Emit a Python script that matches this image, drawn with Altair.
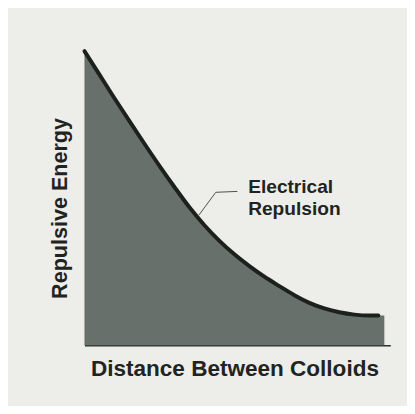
import altair as alt
import pandas as pd

distance = [0, 5, 10, 15, 20, 25, 30, 35, 40, 45, 50, 55, 60, 65, 70, 75, 80, 85, 90, 95, 98, 100]
energy = [100, 92, 84, 76.2, 68.5, 61, 53.8, 46.9, 40.8, 35.5, 30.9, 26.9, 23.3, 20.1, 17, 14.4, 12.5, 11.2, 10.4, 10.1, 10.1, 10.1]

leader_x = [38.2, 43.8, 51]
leader_y = [44.3, 52, 52.3]
leader_order = [0, 1, 2]

label_lines = ["Electrical", "Repulsion"]
label_x = [54.6, 54.6]
label_y = [51.7, 44.3]

curve = pd.DataFrame({"d": distance, "e": energy})
leader = pd.DataFrame({"x": leader_x, "y": leader_y, "o": leader_order})
labels = pd.DataFrame({"t": label_lines, "x": label_x, "y": label_y})

xs = alt.Scale(domain=[0, 102], nice=False, zero=False)
ys = alt.Scale(domain=[0, 100], nice=False)

area = alt.Chart(curve).mark_area(color="#68706b", interpolate="monotone", opacity=1).encode(
    x=alt.X("d:Q", scale=xs, axis=alt.Axis(
        title="Distance Between Colloids", domain=True, domainColor="#2a302c", domainWidth=1.5,
        ticks=False, labels=False, grid=False, titleFont="Liberation Sans", titleFontSize=23,
        titleFontWeight="bold", titleColor="#1f2421", titlePadding=13, titleX=153)),
    y=alt.Y("e:Q", scale=ys, axis=alt.Axis(
        title="Repulsive Energy", domain=False, ticks=False, labels=False, grid=False,
        titleFont="Liberation Sans", titleFontSize=22, titleFontWeight="bold",
        titleColor="#1f2421", titlePadding=13, titleY=160)),
)

line = alt.Chart(curve).transform_filter("datum.d <= 98").mark_line(
    color="#1c211e", strokeWidth=4, interpolate="monotone", strokeCap="round").encode(
    x=alt.X("d:Q", scale=xs), y=alt.Y("e:Q", scale=ys))

lead = alt.Chart(leader).mark_line(color="#4a4f4c", strokeWidth=1).encode(
    x=alt.X("x:Q", scale=xs), y=alt.Y("y:Q", scale=ys), order="o:O")

text = alt.Chart(labels).mark_text(
    align="left", baseline="alphabetic", font="Liberation Sans", fontSize=19.5,
    fontWeight="bold", color="#1f2421").encode(
    x=alt.X("x:Q", scale=xs), y=alt.Y("y:Q", scale=ys), text="t:N")

chart = alt.layer(area, line, lead, text).properties(
    width=312, height=300,
    autosize=alt.AutoSizeParams(type="none"),
    padding={"left": 78, "top": 40, "right": 17, "bottom": 58},
    background="#edede9",
).configure_view(stroke=None)

chart.save("out.html", embed_options={"renderer": "svg", "actions": False})
